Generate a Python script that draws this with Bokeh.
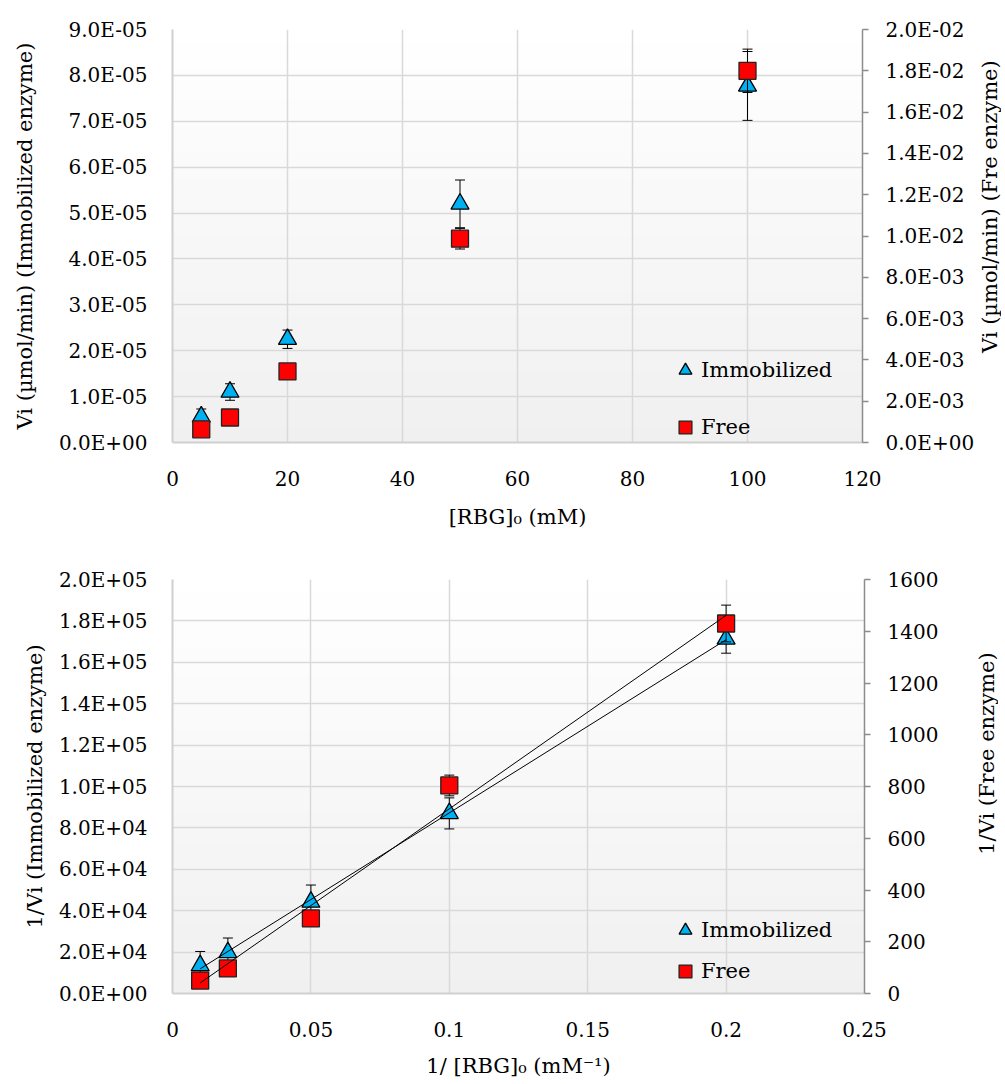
import math
import numpy as np
from bokeh.plotting import figure
from bokeh.models import (Range1d, LinearAxis, FixedTicker, CustomJSTickFormatter,
                          Legend, LegendItem)
from bokeh.core.properties import value
from bokeh.layouts import column, row
from bokeh.embed import file_html
from bokeh.resources import INLINE

# ---------------- data ----------------
# Top chart: Michaelis-Menten
top_x = [5, 10, 20, 50, 100]
top_imm = [5.6e-06, 1.1e-05, 2.25e-05, 5.2e-05, 7.77e-05]
top_imm_err = [1.7e-06, 1.8e-06, 2.0e-06, 5.2e-06, 7.5e-06]
top_free = [6.4e-04, 1.21e-03, 3.44e-03, 9.87e-03, 1.80e-02]
top_free_err = [5e-05, 8e-05, 2e-04, 5e-04, 1.05e-03]

top_x_ticks = [0, 20, 40, 60, 80, 100, 120]
top_x_labels = ["0", "20", "40", "60", "80", "100", "120"]
top_left_ticks = [0, 1e-05, 2e-05, 3e-05, 4e-05, 5e-05, 6e-05, 7e-05, 8e-05, 9e-05]
top_left_labels = ["0.0E+00", "1.0E-05", "2.0E-05", "3.0E-05", "4.0E-05", "5.0E-05",
                   "6.0E-05", "7.0E-05", "8.0E-05", "9.0E-05"]
top_right_ticks = [0, 0.002, 0.004, 0.006, 0.008, 0.010, 0.012, 0.014, 0.016, 0.018, 0.020]
top_right_labels = ["0.0E+00", "2.0E-03", "4.0E-03", "6.0E-03", "8.0E-03", "1.0E-02",
                    "1.2E-02", "1.4E-02", "1.6E-02", "1.8E-02", "2.0E-02"]

# Bottom chart: Lineweaver-Burk
bot_x = [0.01, 0.02, 0.05, 0.1, 0.2]
bot_imm = [1.35e4, 1.98e4, 4.42e4, 8.7e4, 1.713e5]
bot_imm_err = [6.8e3, 7.0e3, 8.2e3, 7.5e3, 6.9e3]
bot_free = [50, 97, 290, 804, 1430]
bot_free_err = [3, 5, 10, 40, 71]

bot_x_ticks = [0, 0.05, 0.1, 0.15, 0.2, 0.25]
bot_x_labels = ["0", "0.05", "0.1", "0.15", "0.2", "0.25"]
bot_left_ticks = [0, 2e4, 4e4, 6e4, 8e4, 1e5, 1.2e5, 1.4e5, 1.6e5, 1.8e5, 2e5]
bot_left_labels = ["0.0E+00", "2.0E+04", "4.0E+04", "6.0E+04", "8.0E+04", "1.0E+05",
                   "1.2E+05", "1.4E+05", "1.6E+05", "1.8E+05", "2.0E+05"]
bot_right_ticks = [0, 200, 400, 600, 800, 1000, 1200, 1400, 1600]
bot_right_labels = ["0", "200", "400", "600", "800", "1000", "1200", "1400", "1600"]

series_names = ["Immobilized", "Free"]

# ---------------- style ----------------
FONT = "DejaVu Serif"
FS = "20px"
TFS = "21px"
TRI_FILL = "#00b0f0"
SQ_FILL = "#ff0000"
GRID = "#d9d9d9"
LEFT_BORDER = 172
TOTAL_W = 974
TITLE_W = 24


def label_formatter(tvals, tlabels):
    return CustomJSTickFormatter(args=dict(tv=tvals, tl=tlabels), code="""
let best = 0;
for (let i = 0; i < tv.length; i++) {
  if (Math.abs(tv[i] - tick) < Math.abs(tv[best] - tick)) best = i;
}
return tl[best];
""")


def style_axis(ax):
    ax.major_label_text_font = FONT
    ax.major_label_text_font_size = FS
    ax.major_label_text_color = "black"
    ax.axis_label_text_font = FONT
    ax.axis_label_text_font_size = TFS
    ax.axis_label_text_font_style = "normal"
    ax.axis_label_text_color = "black"
    ax.minor_tick_line_color = None


def make_chart(xr, yr, yr2, xt, xl, lt, ll, rt, rl, xtitle, ltitle,
               fw, fh, top, bottom, lstand, xstand):
    p = figure(frame_width=fw, frame_height=fh,
               x_range=Range1d(xr[0], xr[1]), y_range=Range1d(yr[0], yr[1]),
               output_backend="svg", toolbar_location=None,
               min_border_left=LEFT_BORDER, min_border_right=TOTAL_W - LEFT_BORDER - fw,
               min_border_top=top, min_border_bottom=bottom,
               outline_line_color=None, background_fill_color="white",
               border_fill_color="white")
    p.extra_y_ranges = {"right": Range1d(yr2[0], yr2[1])}

    # vertical gradient background of the plot area
    n = 200
    t = np.linspace(0.0, 1.0, n)
    g = np.round(240 + 15 * t).astype(np.uint32)
    img = np.empty((n, 1), dtype=np.uint32)
    img[:, 0] = (np.uint32(255) << 24) | (g << 16) | (g << 8) | g
    p.image_rgba(image=[img], x=xr[0], y=yr[0], dw=xr[1] - xr[0], dh=yr[1] - yr[0],
                 level="image")

    # grid
    p.xgrid.ticker = FixedTicker(ticks=xt)
    p.ygrid.ticker = FixedTicker(ticks=lt)
    p.grid.grid_line_color = GRID
    p.grid.grid_line_width = 1.5

    # bottom axis
    xa = p.xaxis[0]
    xa.ticker = FixedTicker(ticks=xt)
    xa.formatter = label_formatter(xt, xl)
    style_axis(xa)
    xa.major_tick_line_color = None
    xa.major_tick_in = 0
    xa.major_tick_out = 0
    xa.axis_line_color = "#d0d0d0"
    xa.axis_line_width = 2
    xa.major_label_standoff = 28
    xa.axis_label = xtitle
    xa.axis_label_standoff = xstand

    # left axis
    ya = p.yaxis[0]
    ya.ticker = FixedTicker(ticks=lt)
    ya.formatter = label_formatter(lt, ll)
    style_axis(ya)
    ya.major_tick_line_color = None
    ya.major_tick_in = 0
    ya.major_tick_out = 0
    ya.axis_line_color = "#d0d0d0"
    ya.axis_line_width = 2
    ya.major_label_standoff = 25
    ya.axis_label = ltitle
    ya.axis_label_standoff = lstand

    # right axis
    ra = LinearAxis(y_range_name="right", ticker=FixedTicker(ticks=rt),
                    formatter=label_formatter(rt, rl))
    style_axis(ra)
    ra.axis_line_color = "#8c8c8c"
    ra.axis_line_width = 1.5
    ra.major_tick_line_color = "#8c8c8c"
    ra.major_tick_line_width = 1.5
    ra.major_tick_in = 0
    ra.major_tick_out = 6
    ra.major_label_standoff = 17
    p.add_layout(ra, "right")
    return p


def title_strip(height, text, y_from_bottom):
    """Narrow strip holding the right-hand axis title, reading bottom-to-top."""
    t = figure(width=TITLE_W, height=height,
               x_range=Range1d(0, TITLE_W), y_range=Range1d(0, height),
               x_axis_type=None, y_axis_type=None, min_border=0,
               output_backend="svg", toolbar_location=None, outline_line_color=None,
               background_fill_color="white", border_fill_color="white")
    t.grid.visible = False
    t.text(x=[TITLE_W / 2], y=[y_from_bottom], text=[text], angle=math.pi / 2,
           text_align="center", text_baseline="middle",
           text_font=value(FONT), text_font_size=value(TFS), text_color="black")
    return t


def error_bars(p, x, y, err, rname=None):
    lo = [a - b for a, b in zip(y, err)]
    hi = [a + b for a, b in zip(y, err)]
    kw = {} if rname is None else {"y_range_name": rname}
    p.segment(x0=x, y0=lo, x1=x, y1=hi, line_color="black", line_width=1, **kw)
    p.scatter(x=x, y=hi, marker="dash", size=10, line_color="black", line_width=1, **kw)
    p.scatter(x=x, y=lo, marker="dash", size=10, line_color="black", line_width=1, **kw)


def add_series(p, x, imm, imm_err, free, free_err):
    error_bars(p, x, imm, imm_err)
    r_imm = p.scatter(x=x, y=imm, marker="triangle", size=18, fill_color=TRI_FILL,
                      line_color="black", line_width=1.3)
    error_bars(p, x, free, free_err, "right")
    r_free = p.scatter(x=x, y=free, marker="square", size=17, fill_color=SQ_FILL,
                       line_color="#222222", line_width=1.3, y_range_name="right")
    return r_imm, r_free


def add_legend(p, r_imm, r_free, loc, spacing):
    leg = Legend(items=[LegendItem(label=series_names[0], renderers=[r_imm]),
                        LegendItem(label=series_names[1], renderers=[r_free])],
                 location=loc, orientation="vertical",
                 border_line_color=None, background_fill_alpha=0,
                 padding=0, margin=0, spacing=spacing,
                 glyph_width=32, glyph_height=32, label_standoff=0,
                 label_text_font=FONT, label_text_font_size=TFS,
                 label_text_color="black")
    p.add_layout(leg, "center")


# ---------------- top chart ----------------
H1_TOP, H1_FRAME, H1_BOT = 29, 413, 107
p1 = make_chart((0, 120), (0, 9e-05), (0, 0.02),
                top_x_ticks, top_x_labels, top_left_ticks, top_left_labels,
                top_right_ticks, top_right_labels,
                "[RBG]\u2080 (mM)", "Vi (\u00b5mol/min) (Immobilized enzyme)",
                fw=690, fh=H1_FRAME, top=H1_TOP, bottom=H1_BOT, lstand=19, xstand=16)
r1i, r1f = add_series(p1, top_x, top_imm, top_imm_err, top_free, top_free_err)
add_legend(p1, r1i, r1f, (497, -1), 25)
t1 = title_strip(H1_TOP + H1_FRAME + H1_BOT, "Vi (\u00b5mol/min) (Fre enzyme)",
                 H1_BOT + H1_FRAME / 2)

# ---------------- bottom chart ----------------
H2_TOP, H2_FRAME, H2_BOT = 30, 414, 91
p2 = make_chart((0, 0.25), (0, 2e5), (0, 1600),
                bot_x_ticks, bot_x_labels, bot_left_ticks, bot_left_labels,
                bot_right_ticks, bot_right_labels,
                "1/ [RBG]\u2080 (mM\u207b\u00b9)", "1/Vi (Immobilized enzyme)",
                fw=692, fh=H2_FRAME, top=H2_TOP, bottom=H2_BOT, lstand=9, xstand=14)
r2i, r2f = add_series(p2, bot_x, bot_imm, bot_imm_err, bot_free, bot_free_err)

# linear trendlines (least squares fit of each series)
mi, ci = np.polyfit(bot_x, bot_imm, 1)
mf, cf = np.polyfit(bot_x, bot_free, 1)
xe = [bot_x[0], bot_x[-1]]
p2.line(x=xe, y=[mi * v + ci for v in xe], line_color="black", line_width=1)
p2.line(x=xe, y=[mf * v + cf for v in xe], line_color="black", line_width=1,
        y_range_name="right")
add_legend(p2, r2i, r2f, (497, 6), 9)
t2 = title_strip(H2_TOP + H2_FRAME + H2_BOT, "1/Vi (Free enzyme)",
                 H2_BOT + H2_FRAME / 2 + 12)

layout = column(row(p1, t1, spacing=0), row(p2, t2, spacing=0), spacing=0)
open("out.html", "w").write(file_html(layout, INLINE))
